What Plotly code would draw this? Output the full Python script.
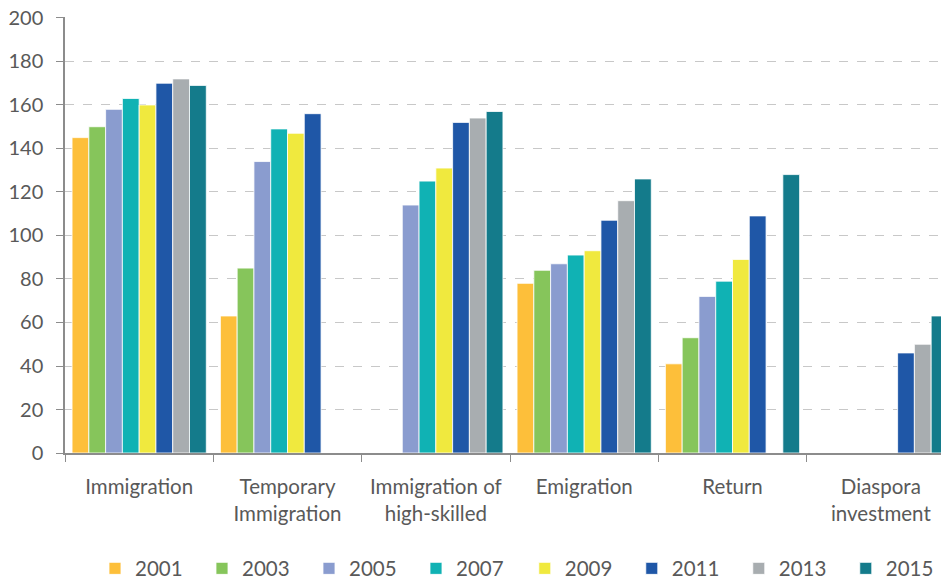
import plotly.graph_objects as go

categories = ["Immigration", "Temporary<br>Immigration", "Immigration of<br>high-skilled",
              "Emigration", "Return", "Diaspora<br>investment"]
years = ["2001", "2003", "2005", "2007", "2009", "2011", "2013", "2015"]
v2001 = [145, 63, None, 78, 41, None]
v2003 = [150, 85, None, 84, 53, None]
v2005 = [158, 134, 114, 87, 72, None]
v2007 = [163, 149, 125, 91, 79, None]
v2009 = [160, 147, 131, 93, 89, None]
v2011 = [170, 156, 152, 107, 109, 46]
v2013 = [172, None, 154, 116, None, 50]
v2015 = [169, None, 157, 126, 128, 63]
series = [v2001, v2003, v2005, v2007, v2009, v2011, v2013, v2015]
colors = ["#FDBF3A", "#86C55B", "#8A9CCF", "#10B2B4", "#F0E93E", "#1F57A7", "#A8ADB0", "#147B8B"]

FONT = "Lato"
TXT = "#595959"
FS = 20.5

fig = go.Figure()
for i, (y, vals, c) in enumerate(zip(years, series, colors)):
    fig.add_trace(go.Bar(
        x=categories, y=vals, name=y,
        marker=dict(color=c, line=dict(color="white", width=0.8)),
        legend="legend" if i < 4 else "legend2",
    ))

leg_common = dict(orientation="h", y=-0.265, yanchor="middle", xanchor="left",
                  font=dict(family=FONT, size=FS, color=TXT), traceorder="normal",
                  entrywidth=62, entrywidthmode="pixels", bgcolor="rgba(0,0,0,0)")

fig.update_layout(
    width=949, height=580,
    margin=dict(l=57, r=2, t=9, b=135, autoexpand=False),
    barmode="group", bargap=0.095, bargroupgap=0,
    plot_bgcolor="white", paper_bgcolor="white",
    font=dict(family=FONT, size=FS, color=TXT),
    showlegend=True,
    legend=dict(x=0.0337, **leg_common),
    legend2=dict(x=0.5166, **leg_common),
    xaxis=dict(
        type="category", range=[-0.5, 5.5], automargin=False,
        showline=True, linecolor="#8C8C8C", linewidth=1.5,
        ticks="outside", tickson="boundaries", ticklen=7, tickcolor="#8C8C8C",
        tickfont=dict(family=FONT, size=FS, color=TXT), ticklabelstandoff=15,
        ticklabeloverflow="allow",
        showgrid=False,
    ),
    yaxis=dict(
        range=[0, 200.45], tickmode="linear", tick0=0, dtick=20, automargin=False,
        showline=True, linecolor="#8C8C8C", linewidth=1.5,
        ticks="outside", ticklen=7, tickcolor="#8C8C8C",
        tickfont=dict(family=FONT, size=20, color=TXT), ticklabelstandoff=9,
        ticklabeloverflow="allow",
        showgrid=True, gridcolor="#C8C8C8", gridwidth=1.2, griddash="dash",
        zeroline=False,
    ),
)

fig.write_html("out.html")
